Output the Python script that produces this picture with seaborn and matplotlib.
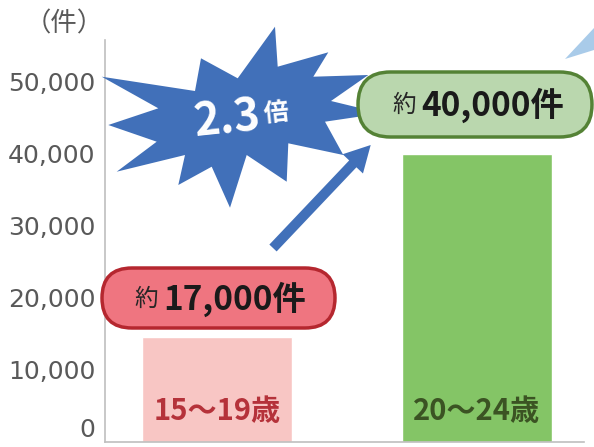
import numpy as np
import pandas as pd
import matplotlib
matplotlib.use('Agg')
import matplotlib.pyplot as plt
from matplotlib.patches import Polygon, FancyBboxPatch, FancyArrow
import seaborn as sns

# data
ages = ['15～19歳', '20～24歳']
counts = [14600, 40000]
callouts = ['17,000件', '40,000件']
ratio_text = '2.3'
yticks = [0, 10000, 20000, 30000, 40000, 50000]

bar_colors = ['#F8C6C4', '#84C566']
label_colors = ['#B5323A', '#3B5323']

sns.set_style('white')
plt.rcParams['font.family'] = ['Noto Sans CJK JP', 'DejaVu Sans']

df = pd.DataFrame({'age': ages, 'count': counts})

fig = plt.figure(figsize=(5.94, 4.47), dpi=100)
ax = fig.add_axes([105 / 594, 5 / 447, 479 / 594, 402 / 447])

sns.barplot(data=df, x='age', y='count', hue='age', palette=bar_colors,
            width=0.58, saturation=1, legend=False, ax=ax)

ax.set_xlim(-0.431, 1.412)
ax.set_ylim(0, 55830)
ax.set_xlabel('')
ax.set_ylabel('')
ax.set_xticks([])
ax.set_yticks(yticks)
ax.set_yticklabels([f'{v:,}' for v in yticks], family='DejaVu Sans',
                   fontsize=18, color='#595959')
ax.tick_params(axis='y', length=0, pad=7)
ax.get_yticklabels()[0].set_verticalalignment('bottom')
for s in ['top', 'right']:
    ax.spines[s].set_visible(False)
for s in ['left', 'bottom']:
    ax.spines[s].set_color('#BFBFBF')
    ax.spines[s].set_linewidth(1.2)

# category names inside the bars
for i, name in enumerate(ages):
    ax.text(i, 4300, name, ha='center', va='center', fontsize=21,
            fontweight='bold', color=label_colors[i])

# overlay in pixel coordinates for the decorations
ov = fig.add_axes([0, 0, 1, 1], zorder=5)
ov.set_xlim(0, 594)
ov.set_ylim(447, 0)
ov.axis('off')

ov.text(64, 24, '（件）', ha='center', va='center', fontsize=19, color='#595959')

# explosion shape
star = [(101.7, 76.7), (195, 91), (201, 58.3), (237.7, 78.3), (275, 26.7),
        (277.7, 66.7), (328.3, 52.3), (313.3, 76.7), (368.3, 75), (331, 101),
        (381.7, 113.3), (325, 121.7), (343.3, 155), (288.3, 143.3),
        (286.7, 181.7), (246.7, 155), (230, 207.7), (211.7, 166.7),
        (178.3, 185), (185, 155), (116.7, 171.7), (156.7, 141.7),
        (108.3, 125), (158.3, 108.3)]
ov.add_patch(Polygon(star, closed=True, facecolor='#4170B9', edgecolor='none'))
ov.text(227, 120, ratio_text, ha='center', va='center', fontsize=32,
        fontweight='bold', color='white', rotation=6, rotation_mode='anchor')
ov.text(276, 114, '倍', ha='center', va='center', fontsize=18,
        fontweight='bold', color='white', rotation=6, rotation_mode='anchor')

# arrow
ov.add_patch(FancyArrow(273, 248, 97.7, -103, width=10, head_width=28,
                        head_length=26, length_includes_head=True,
                        color='#4170B9', lw=0))

# light blue shape cut at the right edge
ov.add_patch(Polygon([(565, 59), (594, 28), (594, 50)], closed=True,
                     facecolor='#A9CBE9', edgecolor='none'))

# callout pills
pills = [((102, 268, 233, 60), '#EF7580', '#B5272F', (146, 299), (235, 299)),
         ((358, 72, 234, 65), '#BAD7AE', '#548235', (404, 105), (493, 105))]
for (x0, y0, w, h), fc, ec, p_small, p_big in pills:
    ov.add_patch(FancyBboxPatch((x0, y0), w, h,
                                boxstyle=f'round,pad=0,rounding_size={h / 2}',
                                facecolor=fc, edgecolor=ec, lw=2.5))
for i, (x0y0, fc, ec, p_small, p_big) in enumerate(pills):
    ov.text(p_small[0], p_small[1], '約', ha='center', va='center',
            fontsize=17, color='#262626')
    ov.text(p_big[0], p_big[1], callouts[i], ha='center', va='center',
            fontsize=24, fontweight='bold', color='#1A1A1A')

fig.savefig('out.png', dpi=100)
